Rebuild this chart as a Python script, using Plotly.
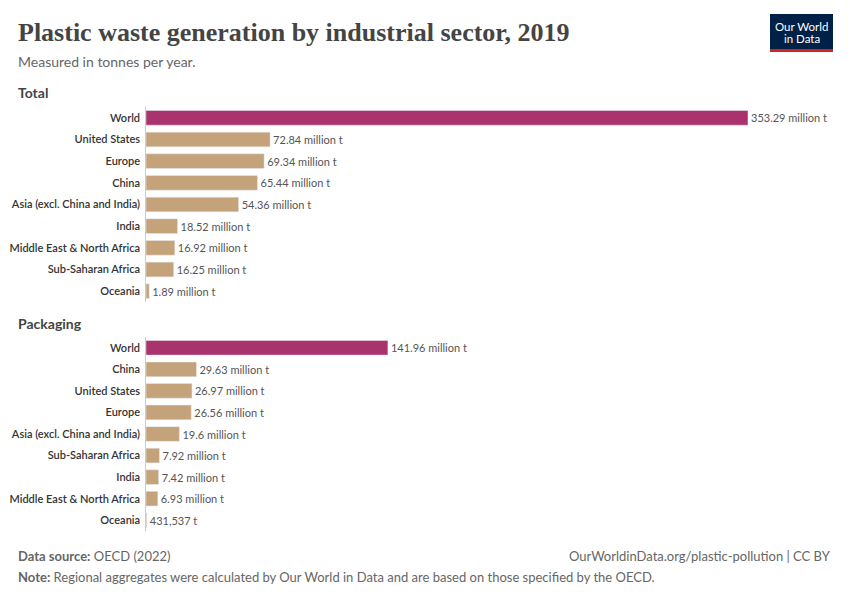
import plotly.graph_objects as go

total_regions = ["World", "United States", "Europe", "China", "Asia (excl. China and India)",
                 "India", "Middle East & North Africa", "Sub-Saharan Africa", "Oceania"]
total_values = [353.29, 72.84, 69.34, 65.44, 54.36, 18.52, 16.92, 16.25, 1.89]
total_labels = ["353.29 million t", "72.84 million t", "69.34 million t", "65.44 million t",
                "54.36 million t", "18.52 million t", "16.92 million t", "16.25 million t",
                "1.89 million t"]

pack_regions = ["World", "China", "United States", "Europe", "Asia (excl. China and India)",
                "Sub-Saharan Africa", "India", "Middle East & North Africa", "Oceania"]
pack_values = [141.96, 29.63, 26.97, 26.56, 19.6, 7.92, 7.42, 6.93, 0.431537]
pack_labels = ["141.96 million t", "29.63 million t", "26.97 million t", "26.56 million t",
               "19.6 million t", "7.92 million t", "7.42 million t", "6.93 million t",
               "431,537 t"]

WORLD = "#a8336d"
REGION = "#c4a27a"
FONT = "Lato, Noto Sans, sans-serif"
W, H, OFF = 850, 600, 8  # page body adds an 8px offset


def px(x):
    return (x - OFF) / W


def py(y):
    return 1 - (y - OFF) / H


def colors(regions):
    return [WORLD if r == "World" else REGION for r in regions]


fig = go.Figure()
fig.add_trace(go.Bar(x=total_values, y=total_regions, orientation="h",
                     marker_color=colors(total_regions), width=0.68,
                     text=total_labels, textposition="outside", cliponaxis=False,
                     textfont=dict(size=11, color="#555"), xaxis="x", yaxis="y"))
fig.add_trace(go.Bar(x=pack_values, y=pack_regions, orientation="h",
                     marker_color=colors(pack_regions), width=0.68,
                     text=pack_labels, textposition="outside", cliponaxis=False,
                     textfont=dict(size=11, color="#555"), xaxis="x2", yaxis="y2"))

ax = dict(range=[0, 353.29], showgrid=False, zeroline=False, showticklabels=False,
          domain=[px(146), px(748)], fixedrange=True)
yax = dict(autorange="reversed", showgrid=False, ticks="", automargin=False,
           tickfont=dict(size=11, color="#333", weight=600),
           showline=True, linecolor="#ccc", linewidth=1, ticksuffix=" ")

fig.update_layout(
    width=W, height=H, showlegend=False, plot_bgcolor="white", paper_bgcolor="white",
    font=dict(family=FONT), margin=dict(l=0, r=0, t=0, b=0, autoexpand=False),
    xaxis=ax, xaxis2=dict(ax, anchor="y2"),
    yaxis=dict(yax, domain=[py(302), py(107)], anchor="x"),
    yaxis2=dict(yax, domain=[py(531), py(337)], anchor="x2"),
)

ann = [
    dict(text="<b>Plastic waste generation by industrial sector, 2019</b>", x=16, y=32, size=26,
         color="#444", family="Liberation Serif, DejaVu Serif, serif"),
    dict(text="Measured in tonnes per year.", x=16, y=61, size=14, color="#666"),
    dict(text="<b>Total</b>", x=16, y=93, size=14, color="#444"),
    dict(text="<b>Packaging</b>", x=16, y=323, size=14, color="#444"),
    dict(text="<b>Data source:</b> OECD (2022)", x=16, y=556, size=13, color="#666"),
    dict(text="<b>Note:</b> Regional aggregates were calculated by Our World in Data and are based on those specified by the OECD.",
         x=16, y=577, size=13, color="#666"),
]
for a in ann:
    fig.add_annotation(text=a["text"], x=px(a["x"]), y=py(a["y"]), xref="paper", yref="paper",
                       xanchor="left", yanchor="middle", showarrow=False,
                       font=dict(size=a["size"], color=a["color"], family=a.get("family", FONT)))
fig.add_annotation(text="OurWorldinData.org/plastic-pollution | CC BY", x=px(833), y=py(556),
                   xref="paper", yref="paper", xanchor="right", yanchor="middle", showarrow=False,
                   font=dict(size=13, color="#666"))

# logo
fig.add_shape(type="rect", xref="paper", yref="paper", x0=px(770), x1=px(833),
              y0=py(50), y1=py(14), fillcolor="#002147", line_width=0, layer="below")
fig.add_shape(type="rect", xref="paper", yref="paper", x0=px(770), x1=px(833),
              y0=py(52), y1=py(49), fillcolor="#ce261e", line_width=0, layer="below")
for txt, ty in [("Our World", 26), ("in Data", 39)]:
    fig.add_annotation(text=txt, x=px(801.5), y=py(ty), xref="paper", yref="paper",
                       xanchor="center", yanchor="middle", showarrow=False,
                       font=dict(size=11.5, color="white"))

fig.write_html("out.html")
